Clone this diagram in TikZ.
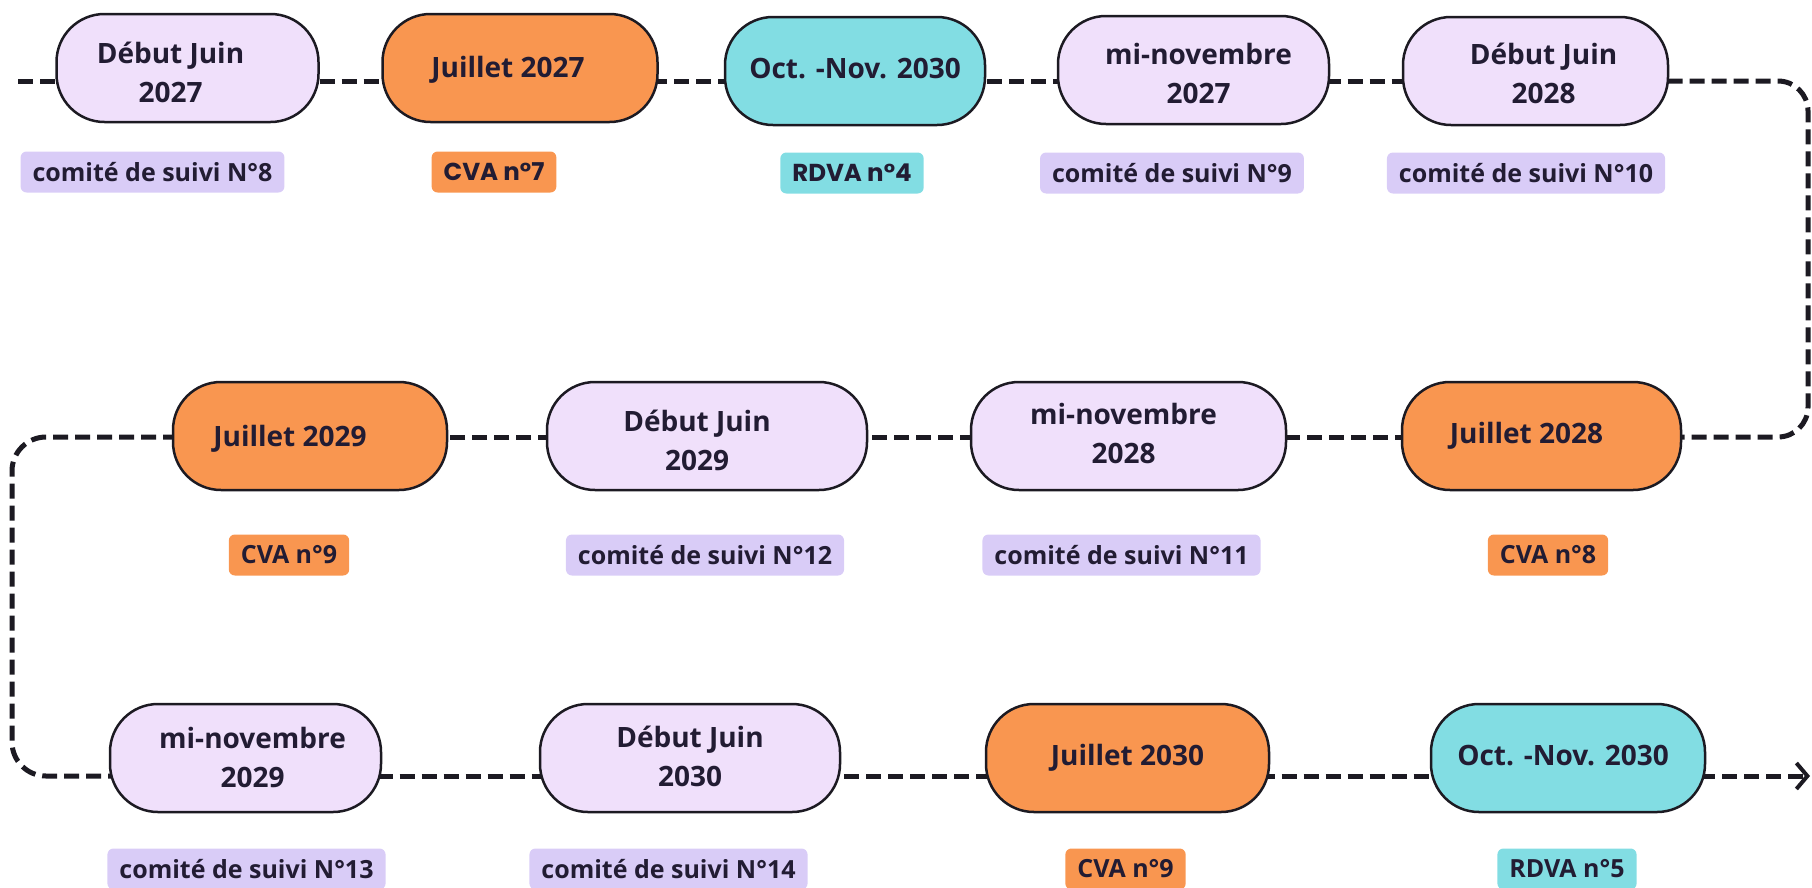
\documentclass[tikz,border=0pt]{standalone}
\usepackage{fontspec}
\setmainfont{Open Sans}
\newfontfamily\popfont{Poppins}
\usetikzlibrary{arrows.meta,backgrounds}
\definecolor{lavfill}{HTML}{F0E0FB}
\definecolor{lavlbl}{HTML}{D9CCF7}
\definecolor{orng}{HTML}{F99650}
\definecolor{cyn}{HTML}{82DDE3}
\definecolor{edge}{HTML}{1C1A22}
\definecolor{txt}{HTML}{221C33}
\newcommand{\evtfont}{\fontsize{28}{39}\selectfont\bfseries}
\newcommand{\lblfont}{\fontsize{25}{30}\selectfont\bfseries}
\newcommand{\poplblfont}{\popfont\fontsize{24.5}{28}\selectfont\bfseries}
% text block with left / right padding and a downward offset (box size kept)
\newcommand{\evtxt}[4]{\raisebox{-#4pt}[\height][\depth]{\begin{tabular}{@{\hspace{#1pt}}c@{\hspace{#2pt}}}#3\end{tabular}}}
\tikzset{
  evt/.style={draw=edge, line width=2.5pt, rounded corners=48pt, text=txt,
    font=\evtfont, minimum height=108pt, inner sep=0pt},
  lbl/.style={rounded corners=6pt, text=txt, font=\lblfont, inner xsep=12pt,
    inner ysep=0pt, minimum height=41pt},
  plbl/.style={lbl, font=\poplblfont},
  conn/.style={draw=edge, line width=5pt, dash pattern=on 15pt off 7pt},
}
\begin{document}
\begin{tikzpicture}[x=1pt,y=1pt]
\useasboundingbox (0,0) rectangle (1812,-887);
% row line levels
\coordinate (r1) at (0,-81);
\coordinate (r2) at (0,-437);
\coordinate (r3) at (0,-776);
\coordinate (s0) at (18,-81);
\coordinate (rc) at (1808,0);
\coordinate (lc) at (12,0);
\coordinate (ae) at (1810,-776);
% row 1
\node[evt, fill=lavfill, minimum width=262pt] (b1) at (187.5,-68) {\evtxt{0}{34}{Début Juin\\2027}{7}};
\node[evt, fill=orng, minimum width=275pt] (b2) at (520,-68) {\evtxt{0}{24}{Juillet 2027}{2}};
\node[evt, fill=cyn, minimum width=260pt] (b3) at (855,-71) {\evtxt{0}{0}{Oct. -Nov. 2030}{0}};
\node[evt, fill=lavfill, minimum width=271pt] (b4) at (1193.5,-70) {\evtxt{10}{0}{mi-novembre\\2027}{6}};
\node[evt, fill=lavfill, minimum width=265pt] (b5) at (1535.5,-71) {\evtxt{16}{0}{Début Juin\\2028}{5}};
\node[lbl, fill=lavlbl] (l1) at (152.5,-172) {comité de suivi N°8};
\node[plbl, fill=orng] (l2) at (494,-172) {CVA n°7};
\node[plbl, fill=cyn] (l3) at (852,-173) {RDVA n°4};
\node[lbl, fill=lavlbl] (l4) at (1172,-173) {comité de suivi N°9};
\node[lbl, fill=lavlbl] (l5) at (1526,-173) {comité de suivi N°10};
% row 2
\node[evt, fill=orng, minimum width=274pt] (c1) at (310,-436) {\evtxt{0}{40}{Juillet 2029}{3}};
\node[evt, fill=lavfill, minimum width=320pt] (c2) at (707,-436) {\evtxt{0}{20}{Début Juin\\2029}{7}};
\node[evt, fill=lavfill, minimum width=315pt] (c3) at (1128.5,-436) {\evtxt{0}{10}{mi-novembre\\2028}{0}};
\node[evt, fill=orng, minimum width=279pt] (c4) at (1541.5,-436) {\evtxt{0}{30}{Juillet 2028}{0}};
\node[lbl, fill=orng] (m1) at (289,-555) {CVA n°9};
\node[lbl, fill=lavlbl] (m2) at (705,-555) {comité de suivi N°12};
\node[lbl, fill=lavlbl] (m3) at (1121.5,-555) {comité de suivi N°11};
\node[lbl, fill=orng] (m4) at (1548,-555) {CVA n°8};
% row 3
\node[evt, fill=lavfill, minimum width=271pt] (d1) at (245.5,-758) {\evtxt{14}{0}{mi-novembre\\2029}{2}};
\node[evt, fill=lavfill, minimum width=300pt] (d2) at (690,-758) {\evtxt{0}{0}{Début Juin\\2030}{1}};
\node[evt, fill=orng, minimum width=283pt] (d3) at (1127.5,-758) {\evtxt{0}{0}{Juillet 2030}{0}};
\node[evt, fill=cyn, minimum width=274pt] (d4) at (1568,-758) {\evtxt{0}{10}{Oct. -Nov. 2030}{0}};
\node[lbl, fill=lavlbl] (n1) at (246.5,-869) {comité de suivi N°13};
\node[lbl, fill=lavlbl] (n2) at (668.5,-869) {comité de suivi N°14};
\node[lbl, fill=orng] (n3) at (1125.5,-869) {CVA n°9};
\node[lbl, fill=cyn] (n4) at (1567,-869) {RDVA n°5};
% connectors
\begin{scope}[on background layer]
\draw[conn] (s0) -- (b1.center |- r1);
\draw[conn] (b1.center |- r1) -- (b2.center |- r1);
\draw[conn] (b2.center |- r1) -- (b3.center |- r1);
\draw[conn] (b3.center |- r1) -- (b4.center |- r1);
\draw[conn] (b4.center |- r1) -- (b5.center |- r1);
\draw[conn, rounded corners=30pt] (b5.center |- r1) -| (rc |- r2) -- (c4.center |- r2);
\draw[conn] (c4.center |- r2) -- (c3.center |- r2);
\draw[conn] (c3.center |- r2) -- (c2.center |- r2);
\draw[conn] (c2.center |- r2) -- (c1.center |- r2);
\draw[conn, rounded corners=34pt] (c1.center |- r2) -| (lc |- r3) -- (d1.center |- r3);
\draw[conn] (d1.center |- r3) -- (d2.center |- r3);
\draw[conn] (d2.center |- r3) -- (d3.center |- r3);
\draw[conn] (d3.center |- r3) -- (d4.center |- r3);
\draw[conn, -{Straight Barb[length=11pt,width=26pt,line width=4pt]}] (d4.center |- r3) -- (ae);
\end{scope}
\end{tikzpicture}
\end{document}
